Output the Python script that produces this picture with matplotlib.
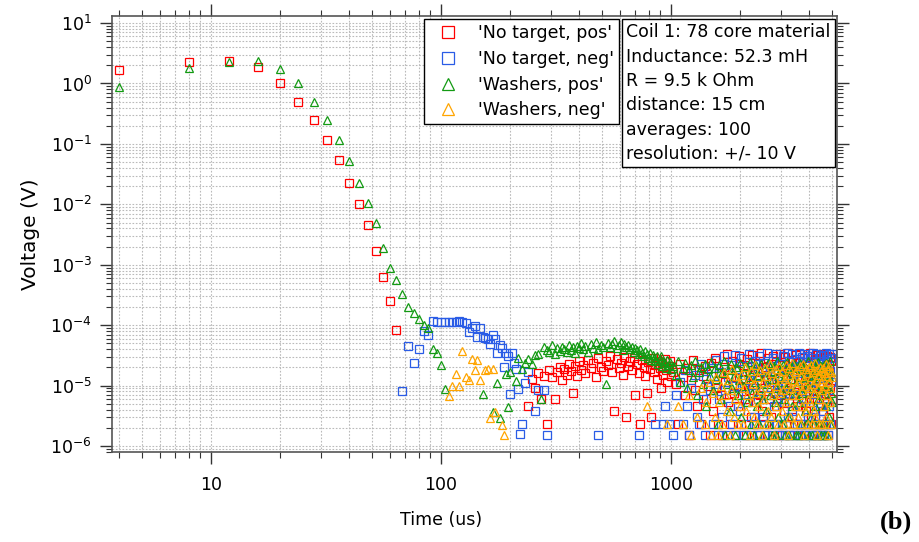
import numpy as np
import matplotlib.pyplot as plt
from matplotlib.ticker import LogLocator, NullFormatter, FixedLocator, FixedFormatter

# -----------------------
# Data
# -----------------------
# early decay, volts
t_red_early = [4, 8, 12, 16, 20, 24, 28, 32, 36, 40, 44, 48, 52, 56, 60, 64]
v_red_early = [1.7, 2.3, 2.4, 1.84, 1.01, 0.50, 0.25, 0.118, 0.054, 0.0227, 0.0102,
               0.0046, 0.00166, 6.2e-4, 2.5e-4, 8.3e-5]

t_blue_early = [68, 72, 76, 80, 84, 88, 92, 96, 100, 104, 108, 112, 116, 120, 124, 128,
                132, 136, 140, 144, 148, 152, 156, 160, 164, 168, 172, 176, 180, 184,
                188, 192, 196, 200, 204, 208, 212, 216, 220, 224, 232]
v_blue_early = [8.1e-6, 4.6e-5, 2.4e-5, 4.0e-5, 7.9e-5, 6.8e-5, 1.19e-4, 1.12e-4, 1.15e-4,
                1.13e-4, 1.14e-4, 1.12e-4, 1.15e-4, 1.16e-4, 1.13e-4, 1.07e-4, 7.6e-5,
                9.0e-5, 9.8e-5, 6.3e-5, 9.0e-5, 6.3e-5, 6.2e-5, 5.9e-5, 4.9e-5, 7.0e-5,
                5.8e-5, 3.5e-5, 4.7e-5, 4.2e-5, 2.0e-5, 3.4e-5, 3.1e-5, 7.4e-6, 3.4e-5,
                2.4e-5, 1.9e-5, 8.7e-6, 1.6e-6, 2.3e-6, 1.1e-5]

t_green_early = [4, 8, 12, 16, 20, 24, 28, 32, 36, 40, 44, 48, 52, 56, 60, 64, 68, 72, 76,
                 80, 84, 88, 92, 96, 100, 104, 152, 168, 176, 180, 192, 196, 200, 212,
                 216, 224, 232]
v_green_early = [0.86, 1.78, 2.3, 2.4, 1.75, 1.0, 0.50, 0.244, 0.117, 0.053, 0.0224, 0.0104,
                 0.00483, 0.0019, 8.7e-4, 5.5e-4, 3.3e-4, 2.0e-4, 1.6e-4, 1.28e-4, 1.0e-4,
                 9.0e-5, 4.0e-5, 3.4e-5, 2.2e-5, 8.9e-6, 7.4e-6, 3.7e-6, 1.1e-5, 2.9e-6,
                 1.55e-5, 4.5e-6, 1.7e-5, 1.2e-5, 2.9e-5, 1.9e-5, 2.4e-5]

t_yellow_early = [108, 112, 116, 120, 124, 128, 132, 136, 140, 144, 148, 156, 160, 164,
                  168, 172, 184, 188]
v_yellow_early = [6.8e-6, 1.0e-5, 1.55e-5, 1.0e-5, 3.8e-5, 1.4e-5, 1.24e-5, 2.8e-5, 1.8e-5,
                  2.7e-5, 1.24e-5, 1.8e-5, 1.9e-5, 2.9e-6, 1.9e-5, 3.6e-6, 2.2e-6, 1.5e-6]

# noise floor region, in ADC steps (0 = no point of that sign)
q = 0.763e-6  # one ADC step in volts

t_mid = [240, 248, 256, 264, 272, 280, 288, 296, 304, 312, 320, 328, 336, 344, 352, 360,
         368, 376, 384, 392, 400, 408, 416,
         424, 436, 448, 460, 472, 484, 496, 508, 520, 532, 544, 556, 568, 580, 592, 604,
         616, 628, 640, 652, 664, 676, 688, 700, 712, 724, 736, 748, 760, 772, 784, 796,
         808, 820, 832, 844, 856, 868, 880, 892, 904, 916, 928, 940, 952, 964, 976, 988,
         1000]
red_mid = [6, 17, 12, 21, 8, 19, 3, 24, 18, 8, 22, 27, 16, 25, 20, 30, 23, 10, 28, 19,
           33, 24, 29,
           21, 35, 26, 31, 18, 38, 27, 23, 34, 29, 40, 22, 5, 36, 26, 31, 20, 39, 4, 28,
           33, 24, 37, 9, 30, 21, 3, 35, 27, 19, 10, 32, 25, 4, 38, 22, 29, 17, 34, 26,
           12, 31, 20, 36, 24, 15, 28, 33, 19]
blue_mid = [22, 0, 5, 11, 0, 11, 2, 0, 0, 0, 0, 0, 0, 0, 0, 0, 0, 0, 0, 0,
            0, 0, 0,
            0, 0, 0, 0, 0, 2, 0, 0, 0, 0, 0, 0, 0, 0, 0, 0, 0, 0, 0, 0,
            0, 0, 0, 0, 0, 2, 0, 0, 0, 0, 0, 0, 0, 0, 0, 0, 3, 0, 0, 0,
            0, 0, 3, 6, 0, 0, 3, 0, 0]
green_mid = [36, 30, 42, 44, 8, 58, 50, 47, 62, 44, 55, 49, 58, 52, 47, 62, 50, 57, 45, 60,
             54, 66, 52,
             59, 48, 63, 56, 70, 53, 61, 57, 14, 67, 58, 64, 72, 55, 62, 68, 50, 65, 57, 61,
             53, 58, 47, 55, 50, 43, 52, 46, 40, 49, 44, 38, 46, 35, 42, 37, 33, 40, 30, 36,
             41, 28, 34, 31, 26, 35, 29, 32, 25]
yellow_mid = [0, 0, 0, 0, 0, 0, 0, 0, 0, 0, 0, 0, 0, 0, 0, 0, 0, 0, 0, 0,
              0, 0, 0,
              0, 0, 0, 0, 0, 0, 0, 0, 0, 0, 0, 0, 0, 0, 0, 0, 0, 0, 0, 0,
              0, 0, 0, 0, 0, 0, 0, 0, 0, 0, 6, 0, 0, 0, 0, 0, 0, 0, 0, 0,
              0, 0, 0, 0, 0, 3, 0, 0, 0]

t_late = [1025, 1050, 1075, 1100, 1125, 1150, 1175, 1200, 1225, 1250, 1275, 1300, 1325, 1350,
          1375, 1400, 1425, 1450, 1475, 1500, 1525, 1550, 1575, 1600, 1625, 1650, 1675, 1700,
          1725, 1750, 1775, 1800, 1825, 1850, 1875, 1900, 1925, 1950, 1975, 2000, 2025, 2050,
          2075, 2100, 2125, 2150, 2175, 2200, 2225, 2250, 2275, 2300, 2325, 2350, 2375, 2400,
          2425, 2450, 2475, 2500, 2525, 2550, 2575, 2600, 2625, 2650, 2675, 2700, 2725, 2750,
          2775, 2800, 2825, 2850, 2875, 2900, 2925, 2950, 2975, 3000, 3025, 3050, 3075, 3100,
          3125, 3150, 3175, 3200, 3225, 3250, 3275, 3300, 3325, 3350, 3375, 3400, 3425, 3450,
          3475, 3500, 3525, 3550, 3575, 3600, 3625, 3650, 3675, 3700, 3725, 3750, 3775, 3800,
          3825, 3850, 3875, 3900, 3925, 3950, 3975, 4000, 4025, 4050, 4075, 4100, 4125, 4150,
          4175, 4200, 4225, 4250, 4275, 4300, 4325, 4350, 4375, 4400, 4425, 4450, 4475, 4500,
          4525, 4550, 4575, 4600, 4625, 4650, 4675, 4700, 4725, 4750, 4775, 4800, 4825, 4850,
          4875, 4900, 4925, 4950, 4975, 5000]
red_late = [22, 14, 3, 30, 18, 9, 26, 2, 16, 35, 11, 6, 24, 3, 19, 28, 8, 13, 2, 31,
            5, 38, 12, 3, 21, 9, 2, 27, 15, 44, 7, 3, 18, 33, 10, 2, 24, 6, 40, 13,
            3, 17, 29, 8, 2, 36, 11, 20, 4, 42, 14, 3, 25, 7, 2, 31, 16, 9, 45, 5,
            12, 3, 27, 19, 2, 38, 8, 22, 4, 15, 41, 3, 10, 33, 6, 2, 24, 17, 44, 9,
            2, 30, 13, 5, 39, 20, 3, 11, 46, 7, 25, 2, 16, 35, 4, 9, 28, 3, 21, 42,
            6, 14, 2, 33, 18, 43, 3, 10, 26, 8, 2, 37, 15, 5, 23, 40, 3, 12, 29, 7,
            45, 4, 19, 2, 31, 11, 24, 3, 38, 8, 16, 2, 42, 6, 27, 13, 3, 34, 20, 9,
            2, 36, 14, 5, 44, 22, 3, 10, 30, 7, 41, 2, 17, 26, 4, 39, 12, 3, 33, 8]
blue_late = [2, 9, 0, 15, 3, 24, 6, 2, 12, 0, 20, 4, 3, 30, 8, 2, 17, 0, 11, 26,
             3, 14, 35, 2, 8, 22, 4, 40, 11, 2, 18, 6, 29, 3, 13, 42, 2, 9, 25, 5,
             37, 2, 12, 20, 3, 7, 44, 16, 2, 28, 10, 4, 34, 3, 19, 8, 41, 2, 14, 23,
             4, 31, 2, 9, 45, 17, 3, 26, 12, 2, 38, 6, 21, 3, 43, 14, 8, 2, 30, 11,
             19, 3, 40, 7, 2, 24, 13, 46, 4, 33, 2, 10, 27, 5, 43, 16, 2, 22, 9, 36,
             3, 28, 11, 45, 2, 17, 6, 39, 21, 3, 13, 44, 2, 8, 32, 18, 4, 41, 2, 25,
             12, 37, 3, 22, 7, 46, 2, 15, 29, 4, 43, 10, 2, 34, 19, 3, 40, 6, 24, 2,
             31, 5, 42, 13, 2, 27, 9, 45, 3, 18, 36, 2, 11, 44, 6, 23, 3, 38, 15, 43]
green_late = [28, 20, 33, 15, 26, 31, 12, 24, 29, 18, 34, 9, 22, 27, 14, 30, 6, 25, 19, 32,
              11, 26, 17, 3, 29, 8, 21, 33, 2, 14, 24, 5, 30, 12, 19, 2, 27, 9, 16, 31,
              4, 22, 13, 2, 28, 7, 18, 32, 3, 10, 25, 2, 15, 29, 6, 20, 3, 12, 30, 8,
              2, 19, 26, 5, 14, 31, 3, 9, 23, 2, 17, 28, 7, 12, 2, 33, 4, 21, 10, 25,
              3, 15, 29, 8, 2, 20, 12, 32, 4, 24, 2, 11, 27, 6, 17, 3, 30, 9, 22, 2,
              13, 26, 2, 7, 31, 18, 3, 10, 24, 2, 15, 28, 5, 21, 3, 12, 33, 8, 2, 19,
              27, 4, 16, 2, 23, 10, 30, 3, 14, 6, 25, 2, 19, 32, 8, 3, 21, 11, 28, 2,
              9, 24, 3, 17, 29, 2, 12, 6, 31, 20, 2, 14, 26, 4, 18, 3, 33, 10, 22, 7]
yellow_late = [0, 0, 6, 0, 3, 0, 0, 9, 2, 0, 0, 4, 0, 12, 0, 3, 7, 0, 15, 2,
               10, 4, 18, 2, 7, 13, 3, 22, 9, 5, 16, 2, 11, 25, 4, 8, 19, 3, 14, 6,
               20, 3, 12, 27, 5, 9, 17, 2, 23, 7, 14, 4, 29, 10, 3, 18, 6, 24, 11, 2,
               15, 8, 26, 3, 19, 5, 12, 30, 4, 21, 9, 2, 16, 25, 6, 13, 3, 28, 10, 18,
               5, 23, 11, 3, 17, 29, 7, 14, 2, 20, 26, 4, 12, 9, 31, 3, 16, 22, 6, 13,
               24, 4, 15, 9, 28, 3, 19, 11, 6, 30, 2, 17, 13, 25, 5, 21, 8, 3, 27, 12,
               7, 18, 29, 3, 14, 22, 5, 10, 31, 4, 16, 24, 2, 12, 20, 8, 27, 3, 15, 23,
               11, 3, 26, 17, 6, 21, 13, 30, 4, 19, 9, 24, 2, 15, 28, 7, 12, 22, 3, 18]

labels = ["'No target, pos'", "'No target, neg'", "'Washers, pos'", "'Washers, neg'"]
colors = ["#ff0000", "#2a5ce6", "#139a13", "#ffa500"]
markers = ["s", "s", "^", "^"]

info_lines = ["Coil 1: 78 core material", "Inductance: 52.3 mH", "R = 9.5 k Ohm",
              "distance: 15 cm", "averages: 100", "resolution: +/- 10 V"]


def steps_to_volts(c):
    c = np.asarray(c, dtype=float)
    return np.where(c > 0, c * q, np.nan)


series = [
    (t_red_early, v_red_early, red_mid, red_late),
    (t_blue_early, v_blue_early, blue_mid, blue_late),
    (t_green_early, v_green_early, green_mid, green_late),
    (t_yellow_early, v_yellow_early, yellow_mid, yellow_late),
]

# -----------------------
# Figure
# -----------------------
fig = plt.figure(figsize=(9.19, 5.42), dpi=100)
ax = fig.add_axes([0.1219, 0.166, 0.7889, 0.8044])

for (te, ve, vm, vl), lab, col, mk in zip(series, labels, colors, markers):
    t = np.concatenate([te, t_mid, t_late])
    v = np.concatenate([ve, steps_to_volts(vm), steps_to_volts(vl)])
    ax.plot(t, v, linestyle="none", marker=mk, ms=5.2, mfc="none", mec=col,
            mew=0.9, label=lab)

ax.set_xscale("log")
ax.set_yscale("log")
ax.set_xlim(3.715, 5272)
ax.set_ylim(7.96e-7, 13.06)

ax.xaxis.set_major_locator(FixedLocator([10, 100, 1000]))
ax.xaxis.set_major_formatter(FixedFormatter(["10", "100", "1000"]))
ax.xaxis.set_minor_locator(LogLocator(base=10, subs=np.arange(2, 10), numticks=30))
ax.xaxis.set_minor_formatter(NullFormatter())
ax.yaxis.set_major_locator(LogLocator(base=10, numticks=30))
ax.yaxis.set_minor_locator(LogLocator(base=10, subs=np.arange(2, 10), numticks=30))
ax.yaxis.set_minor_formatter(NullFormatter())

ax.tick_params(which="both", direction="out", top=True, right=True, color="#333333")
ax.tick_params(which="major", length=8.5, width=1.0)
ax.tick_params(which="minor", length=4.3, width=0.8)
ax.tick_params(axis="x", labelsize=12.5, pad=9)
ax.tick_params(axis="y", labelsize=12.5, pad=6)

for sp in ax.spines.values():
    sp.set_color("#555555")
    sp.set_linewidth(1.2)

ax.set_axisbelow(True)
ax.grid(which="both", color="#bababa", linewidth=0.8, linestyle=(0, (1.5, 1.5)))

ax.set_xlabel("Time (us)", fontsize=12.5)
ax.xaxis.set_label_coords(0.4545, -0.135)
ax.set_ylabel("Voltage (V)", fontsize=14.5)
ax.yaxis.set_label_coords(-0.099, 0.5)

leg = ax.legend(loc="upper left", bbox_to_anchor=(0.430, 0.993), borderaxespad=0,
                fancybox=False, edgecolor="black", framealpha=1, fontsize=12.5,
                markerscale=1.7, handlelength=2.2, handletextpad=0.6,
                labelspacing=0.44, borderpad=0.3)
leg.get_frame().set_linewidth(1.0)

ax.text(0.709, 0.9833, "\n".join(info_lines), transform=ax.transAxes, ha="left",
        va="top", fontsize=12.5, linespacing=1.45, zorder=5,
        bbox=dict(boxstyle="square,pad=0.25", fc="white", ec="black", lw=1.0))

fig.text(0.9924, 0.0369, "(b)", ha="right", va="center", fontsize=19,
         fontweight="bold", family="Liberation Serif")

fig.savefig("out.png", dpi=100)
